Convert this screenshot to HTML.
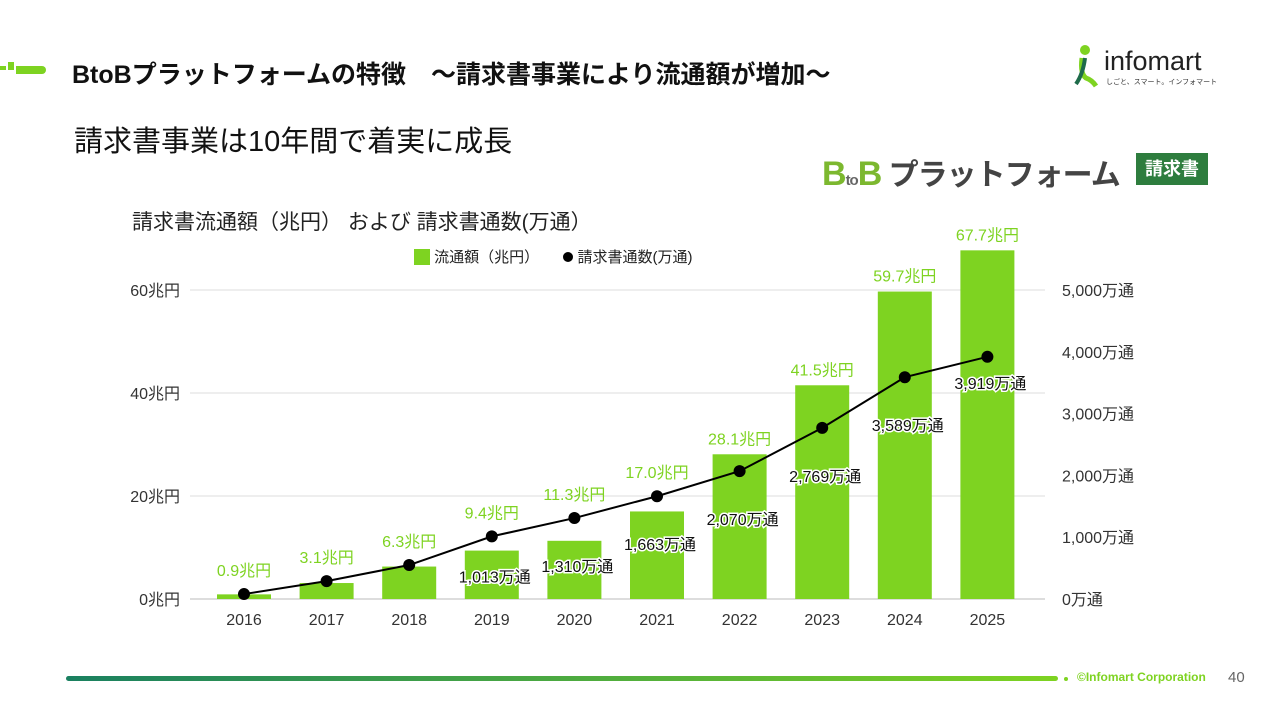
<!DOCTYPE html>
<html><head><meta charset="utf-8"><style>
body{margin:0;width:1280px;height:720px;background:#fff;font-family:"Liberation Sans","Noto Sans CJK JP",sans-serif;overflow:hidden;position:relative}
.abs{position:absolute}
</style></head><body>
<div class="abs" style="left:0;top:62px;width:48px;height:12px">
 <div class="abs" style="left:0;top:4px;width:6px;height:4px;background:#7ed321"></div>
 <div class="abs" style="left:8px;top:0;width:6px;height:8px;background:#7ed321"></div>
 <div class="abs" style="left:16px;top:4px;width:30px;height:8px;background:#7ed321;border-radius:0 4px 4px 0"></div>
</div>
<div class="abs" style="left:72px;top:55px;font-size:25px;font-weight:bold;color:#111">BtoBプラットフォームの特徴　～請求書事業により流通額が増加～</div>
<div class="abs" style="left:1070px;top:44px;width:150px;height:46px">
 <svg width="30" height="46" class="abs" style="left:0;top:0"><circle cx="15" cy="6" r="5" fill="#7ed321"/><path d="M12 14 Q10 30 16 34 Q22 36 26 42" stroke="#7ed321" stroke-width="5" fill="none"/><path d="M15 14 Q13 30 6 40" stroke="#1e6b4a" stroke-width="4" fill="none"/></svg>
 <div class="abs" style="left:34px;top:2px;font-size:27px;color:#222">infomart</div>
 <div class="abs" style="left:36px;top:33px;font-size:7px;color:#333;white-space:nowrap">しごと、スマート。インフォマート</div>
</div>
<div class="abs" style="left:74px;top:118px;font-size:29px;color:#111">請求書事業は10年間で着実に成長</div>
<div class="abs" style="left:822px;top:150px;font-size:30px;font-weight:bold;color:#444;white-space:nowrap;letter-spacing:-1px"><span style="color:#7cb82f;font-size:34px">B</span><span style="font-size:15px;color:#666">to</span><span style="color:#7cb82f;font-size:34px">B</span> プラットフォーム</div>
<div class="abs" style="left:1136px;top:153px;width:72px;height:32px;background:#2e7d3e;color:#fff;font-size:18px;font-weight:bold;text-align:center;line-height:32px">請求書</div>
<div class="abs" style="left:132px;top:206px;font-size:21px;color:#222">請求書流通額（兆円）  および 請求書通数(万通）</div>
<div class="abs" style="left:414px;top:246px;font-size:15px;color:#222;white-space:nowrap">
 <span style="display:inline-block;width:16px;height:16px;background:#7ed321;vertical-align:-3px"></span> 流通額（兆円）
 <span style="display:inline-block;width:10px;height:10px;border-radius:50%;background:#000;margin-left:20px;vertical-align:0"></span> 請求書通数(万通)
</div>
<svg id="chart" class="abs" style="left:0;top:0" width="1280" height="720"></svg>
<div class="abs" style="left:66px;top:676px;width:992px;height:5px;border-radius:3px;background:linear-gradient(90deg,#1a8060,#7ed321)"></div>
<div class="abs" style="left:1064px;top:677px;width:4px;height:4px;border-radius:50%;background:#7ed321"></div>
<div class="abs" style="left:1077px;top:670px;font-size:12px;font-weight:bold;color:#7ed321">©Infomart Corporation</div>
<div class="abs" style="left:1228px;top:669px;font-size:15px;color:#666">40</div>
<script>
const years=["2016","2017","2018","2019","2020","2021","2022","2023","2024","2025"];
const amounts=[0.9,3.1,6.3,9.4,11.3,17.0,28.1,41.5,59.7,67.7];
const counts=[80,290,550,1013,1310,1663,2070,2769,3589,3919];
const countLabels=["","","","1,013万通","1,310万通","1,663万通","2,070万通","2,769万通","3,589万通","3,919万通"];
const leftTicks=[0,20,40,60];
const rightTicks=[0,1000,2000,3000,4000,5000];
const NS="http://www.w3.org/2000/svg";
const svg=document.getElementById('chart');
const x=i=>244+i*82.6;
const yL=v=>599-v*5.15;
const yR=v=>599-v*0.0618;
function mk(t,a,txt){const e=document.createElementNS(NS,t);for(const k in a)e.setAttribute(k,a[k]);if(txt!==undefined)e.textContent=txt;svg.appendChild(e);return e;}
leftTicks.forEach(v=>{
 const g=mk('line',{x1:190,x2:1045,y1:yL(v),y2:yL(v),stroke:v===0?'#bbb':'#ddd','stroke-width':1});
 
 
 const t=mk('text',{x:180,y:yL(v)+6,'text-anchor':'end','font-size':16,fill:'#333'},v+'兆円');
 
 
});
rightTicks.forEach(v=>{
 const t=mk('text',{x:1062,y:yR(v)+6,'font-size':16,fill:'#333'},v.toLocaleString('en-US')+'万通');
 
 
});
years.forEach((yr,i)=>{
 const b=mk('rect',{x:x(i)-27,y:yL(amounts[i]),width:54,height:599-yL(amounts[i]),fill:'#7ed321'});
 
 
 const top=Math.min(yL(amounts[i]),yR(counts[i])-8);
 const l=mk('text',{x:x(i),y:top-10,'text-anchor':'middle','font-size':16,fill:'#7ed321'},amounts[i].toFixed(1)+'兆円');
 
 
 const xl=mk('text',{x:x(i),y:625,'text-anchor':'middle','font-size':16,fill:'#333'},yr);
 
 
});
const pl=mk('polyline',{points:counts.map((c,i)=>x(i)+','+yR(c)).join(' '),fill:'none',stroke:'#000','stroke-width':2});


counts.forEach((c,i)=>{
 const d=mk('circle',{cx:x(i),cy:yR(c),r:6,fill:'#000'});
 
 
 if(countLabels[i]){
  const off=i===counts.length-1?32:(i===3?46:54);
  const t=mk('text',{x:x(i)+3,y:yR(c)+off,'text-anchor':'middle','font-size':16,fill:'#111',stroke:'#fff','stroke-width':3,'paint-order':'stroke'},countLabels[i]);
  
  
 }
});
</script>
</body></html>
